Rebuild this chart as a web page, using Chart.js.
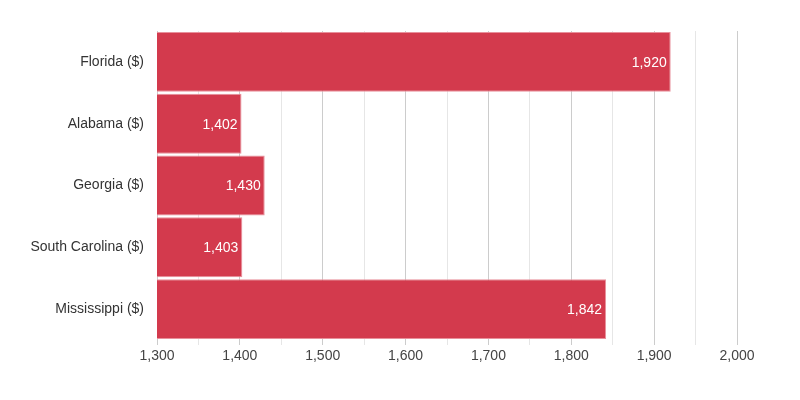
<!DOCTYPE html>
<html>
<head>
<meta charset="utf-8">
<script src="https://cdn.jsdelivr.net/npm/chart.js@4/dist/chart.umd.min.js"></script>
<style>
html,body{margin:0;padding:0;background:#fff;}
#wrap{width:800px;height:400px;position:relative;}
</style>
</head>
<body>
<div id="wrap"><canvas id="c" width="800" height="400"></canvas></div>
<script>
const categories = ["Florida ($)", "Alabama ($)", "Georgia ($)", "South Carolina ($)", "Mississippi ($)"];
const values = [1920, 1402, 1430, 1403, 1842];
const xMin = 1300, xMax = 2000, xStep = 50;

const fmt = v => Number(v).toLocaleString('en-US');

const labelPlugin = {
  id: 'barLabels',
  afterDatasetsDraw(chart) {
    const ctx = chart.ctx;
    const meta = chart.getDatasetMeta(0);
    ctx.save();
    ctx.font = '14px "Liberation Sans", Arial, sans-serif';
    ctx.fillStyle = '#ffffff';
    ctx.textAlign = 'right';
    ctx.textBaseline = 'middle';
    meta.data.forEach((bar, i) => {
      ctx.fillText(fmt(values[i]), bar.x - 4, bar.y + 1);
    });
    ctx.restore();
  }
};

new Chart(document.getElementById('c'), {
  type: 'bar',
  data: {
    labels: categories,
    datasets: [{
      data: values,
      backgroundColor: '#d33a4d',
      borderColor: '#e8909b',
      borderWidth: 1,
      borderSkipped: false,
      barPercentage: 0.97,
      categoryPercentage: 1.0
    }]
  },
  options: {
    indexAxis: 'y',
    responsive: false,
    animation: false,
    devicePixelRatio: 1,
    layout: { padding: { left: 0, right: 63, top: 31, bottom: 0 } },
    plugins: { legend: { display: false }, tooltip: { enabled: false } },
    scales: {
      x: {
        min: xMin, max: xMax,
        afterFit(scale) { scale.height = 60; },
        border: { display: false },
        grid: {
          color: c => (c.tick && c.tick.value % 100 === 0) ? '#cccccc' : '#e6e6e6',
          tickLength: 5,
          drawTicks: true
        },
        ticks: {
          stepSize: xStep,
          autoSkip: false,
          maxRotation: 0,
          padding: 3,
          color: '#444444',
          font: { family: '"Liberation Sans", Arial, sans-serif', size: 14 },
          callback: v => (v % 100 === 0) ? fmt(v) : ''
        }
      },
      y: {
        afterFit(scale) { scale.width = 157; },
        border: { display: false },
        grid: { display: false },
        ticks: {
          padding: 5,
          color: '#333333',
          font: { family: '"Liberation Sans", Arial, sans-serif', size: 14 }
        }
      }
    }
  },
  plugins: [labelPlugin]
});
</script>
</body>
</html>
